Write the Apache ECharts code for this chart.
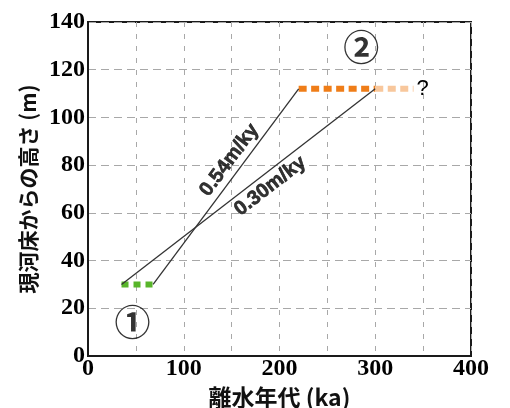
<!DOCTYPE html>
<html>
<head>
<meta charset="utf-8">
<script src="https://cdn.jsdelivr.net/npm/echarts@6/dist/echarts.min.js"></script>
<style>
  html, body { margin: 0; padding: 0; background: #fff; }
  #chart { width: 510px; height: 408px; }
</style>
</head>
<body>
<div id="chart"></div>
<script>
// Terrace surfaces: age (ka) vs. height above present river bed (m)
const terrace1 = [[35, 30], [68, 30]];              // terrace ①
const terrace2 = [[220, 112], [300, 112]];          // terrace ②, dated part
const terrace2Uncertain = [[300, 112], [340, 112]]; // terrace ②, uncertain extension
// Uplift-rate lines joining the two terraces
const rateFast = [[68, 30], [220, 112]];
const rateSlow = [[35, 30], [300, 112]];
const rateTexts = ['0.54m/ky', '0.30m/ky'];
const xTicks = [0, 100, 200, 300, 400];
const yTicks = [0, 20, 40, 60, 80, 100, 120, 140];

const chart = echarts.init(document.getElementById('chart'), null, { renderer: 'canvas' });

const serifTick = { fontFamily: 'Liberation Serif', fontWeight: 'bold', fontSize: 24, color: '#000' };
const cjkTitle = { fontFamily: 'Noto Sans CJK JP', fontWeight: 'bold', color: '#111' };

const baseSeries = [
  {
    name: 'terrace1', type: 'line', data: terrace1, symbol: 'none', z: 3,
    lineStyle: { color: '#58b52a', width: 6, type: [7, 5], cap: 'butt' }
  },
  {
    name: 'terrace2', type: 'line', data: terrace2, symbol: 'none', z: 3,
    lineStyle: { color: '#ef7d18', width: 6, type: [8, 4.5], cap: 'butt' }
  },
  {
    name: 'terrace2Uncertain', type: 'line', data: terrace2Uncertain, symbol: 'none', z: 3,
    lineStyle: { color: '#f8c79c', width: 6, type: [8, 4.5], cap: 'butt' },
    endLabel: {
      show: true, formatter: '?', distance: 3,
      fontFamily: 'Liberation Sans', fontSize: 22, color: '#000'
    }
  },
  {
    name: 'rateFast', type: 'line', data: rateFast, symbol: 'none', z: 4,
    lineStyle: { color: '#333', width: 1.3 }
  },
  {
    name: 'rateSlow', type: 'line', data: rateSlow, symbol: 'none', z: 4,
    lineStyle: { color: '#333', width: 1.3 }
  }
];

chart.setOption({
  animation: false,
  backgroundColor: '#fff',
  grid: {
    left: 88, top: 22, width: 383, height: 334,
    outerBoundsMode: 'none', containLabel: false,
    show: true, borderColor: '#1a1a1a', borderWidth: 2, backgroundColor: 'transparent'
  },
  xAxis: {
    type: 'value', min: 0, max: 400, interval: 50,
    name: '離水年代 (ka)', nameLocation: 'middle', nameGap: 22,
    nameTextStyle: { ...cjkTitle, fontSize: 23 },
    axisLine: { show: true, lineStyle: { color: '#1a1a1a', width: 2 } },
    axisTick: { show: false },
    axisLabel: {
      ...serifTick, margin: 1,
      formatter: v => (xTicks.indexOf(v) >= 0 ? String(v) : '')
    },
    splitLine: { show: true, lineStyle: { color: '#a8a8a8', width: 1, type: [5, 7] } }
  },
  yAxis: {
    type: 'value', min: 0, max: 140, interval: 20,
    name: '現河床からの高さ (m)', nameLocation: 'middle', nameGap: 41, nameRotate: 90,
    nameTextStyle: { ...cjkTitle, fontSize: 21 },
    axisLine: { show: true, lineStyle: { color: '#1a1a1a', width: 2 } },
    axisTick: { show: false },
    axisLabel: {
      ...serifTick, margin: 3,
      formatter: v => (yTicks.indexOf(v) >= 0 ? String(v) : '')
    },
    splitLine: { show: true, lineStyle: { color: '#a8a8a8', width: 1, type: [8, 5] } }
  },
  series: baseSeries
});

// Rate labels run parallel to their lines, set a little off each line.
function rateLabel(seg, text, t, side) {
  const p0 = chart.convertToPixel({ gridIndex: 0 }, seg[0]);
  const p1 = chart.convertToPixel({ gridIndex: 0 }, seg[1]);
  const dx = p1[0] - p0[0], dy = p1[1] - p0[1];
  const len = Math.hypot(dx, dy);
  const ux = dx / len, uy = dy / len;
  // normal pointing to the upper-left side of the line
  const nx = uy, ny = -ux;
  const px = p0[0] + dx * t + nx * side;
  const py = p0[1] + dy * t + ny * side;
  const anchor = chart.convertFromPixel({ gridIndex: 0 }, [px, py]);
  const angle = -Math.atan2(dy, dx) * 180 / Math.PI;
  return {
    value: anchor,
    label: {
      show: true, formatter: text, position: 'inside', rotate: angle,
      align: 'center', verticalAlign: 'middle',
      fontFamily: 'Liberation Sans', fontWeight: 'bold', fontSize: 20, color: '#000',
      textBorderColor: '#000', textBorderWidth: 0.6
    }
  };
}

// Circled terrace numbers
const notes = [
  { text: '①', at: [46.5, 14] },
  { text: '②', at: [285.5, 129.5] }
];

chart.setOption({
  series: baseSeries.concat([
    {
      name: 'rateLabels', type: 'scatter', symbolSize: 0, z: 5, silent: true,
      itemStyle: { color: '#000' },
      data: [
        rateLabel(rateFast, rateTexts[0], 0.596, 13),
        rateLabel(rateSlow, rateTexts[1], 0.555, -13)
      ]
    },
    {
      name: 'terraceNumbers', type: 'scatter', symbolSize: 0, z: 5, silent: true,
      itemStyle: { color: '#000' },
      data: notes.map(n => ({
        value: n.at,
        label: {
          show: true, formatter: n.text, position: 'inside',
          fontFamily: 'Noto Sans CJK JP', fontWeight: 'bold', fontSize: 36, color: '#000'
        }
      }))
    }
  ])
});
</script>
</body>
</html>
